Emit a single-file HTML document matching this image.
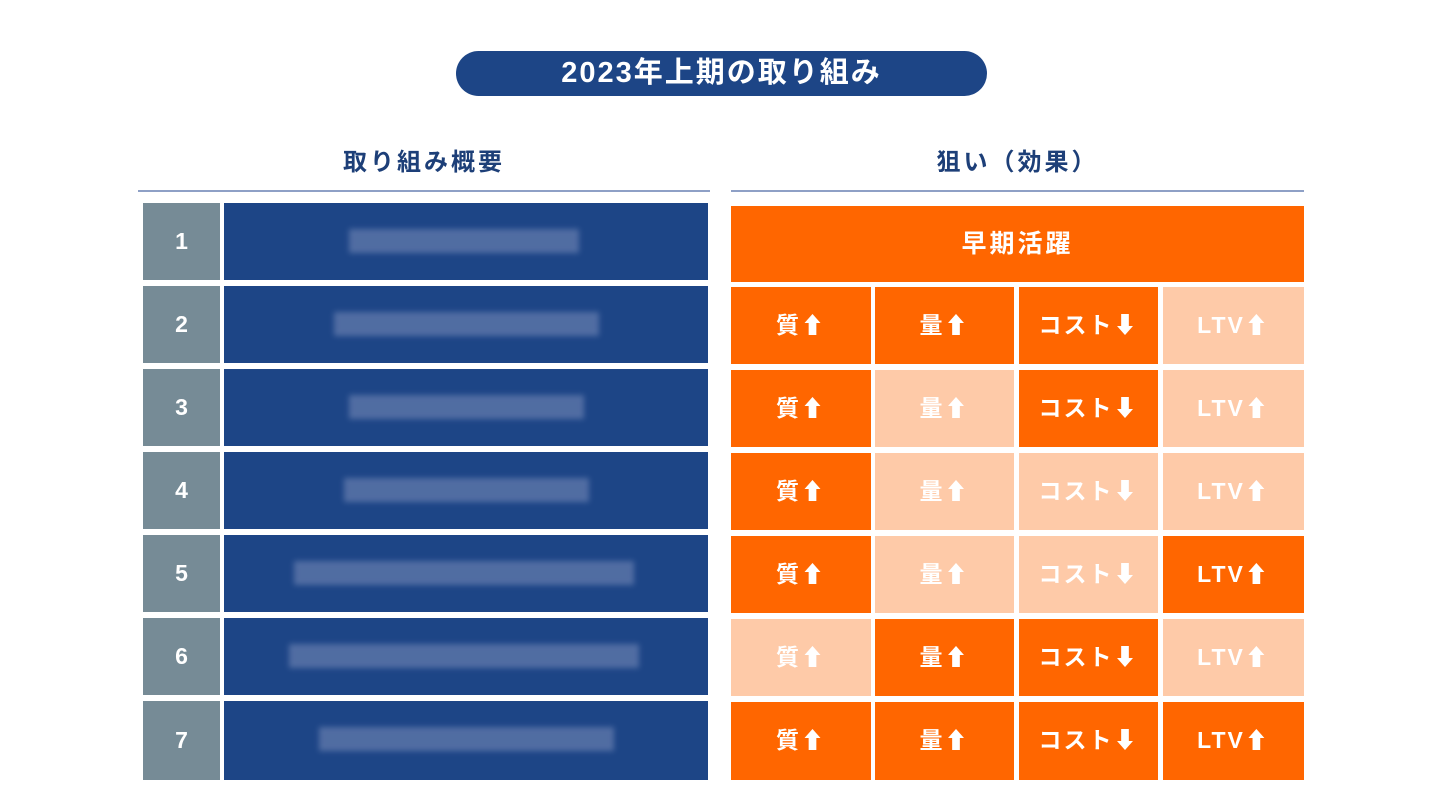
<!DOCTYPE html>
<html><head><meta charset="utf-8"><style>
body{margin:0;width:1440px;height:805px;background:#fff;position:relative;overflow:hidden;font-family:"Liberation Sans","Noto Sans CJK JP",sans-serif;font-weight:bold}
div{position:absolute;box-sizing:border-box}
.pill{left:456px;top:51px;width:531px;height:45px;background:#1d4586;border-radius:23px;color:#fff;font-size:29px;letter-spacing:2px;text-align:center;line-height:45px}
.h{top:147px;font-size:24px;letter-spacing:3px;color:#1d3f78;text-align:center;line-height:32px}
.ln{top:190px;height:2px;background:#8ea0c6}
.num{left:143px;width:77px;height:77px;background:#768b96;color:#fff;font-size:23px;text-align:center;line-height:77px}
.bl{left:224px;width:484px;height:77px;background:#1d4586}
.blur{height:24px;top:26px;background:#5a74a8;filter:blur(3px);opacity:.85}
.c{height:77px;color:#fff;font-size:23px;letter-spacing:2px;text-align:center;line-height:77px}
.on{background:#ff6600}.off{background:#fecaa8}
</style></head><body>
<div class="pill">2023年上期の取り組み</div>
<div class="h" style="left:138px;width:572px">取り組み概要</div>
<div class="h" style="left:731px;width:573px">狙い（効果）</div>
<div class="ln" style="left:138px;width:572px"></div>
<div class="ln" style="left:731px;width:573px"></div>

<div class="num" style="top:203px">1</div><div class="bl" style="top:203px"><div class="blur" style="left:125px;width:230px"></div></div>
<div class="num" style="top:286px">2</div><div class="bl" style="top:286px"><div class="blur" style="left:110px;width:265px"></div></div>
<div class="num" style="top:369px">3</div><div class="bl" style="top:369px"><div class="blur" style="left:125px;width:235px"></div></div>
<div class="num" style="top:452px">4</div><div class="bl" style="top:452px"><div class="blur" style="left:120px;width:245px"></div></div>
<div class="num" style="top:535px">5</div><div class="bl" style="top:535px"><div class="blur" style="left:70px;width:340px"></div></div>
<div class="num" style="top:618px">6</div><div class="bl" style="top:618px"><div class="blur" style="left:65px;width:350px"></div></div>
<div class="num" style="top:701px;height:79px;line-height:79px">7</div><div class="bl" style="top:701px;height:79px"><div class="blur" style="left:95px;width:295px"></div></div>

<div class="c on" style="left:731px;top:206px;width:573px;height:76px;line-height:76px;font-size:25px;letter-spacing:3px">早期活躍</div>

<div class="c on" style="left:731px;top:287px;width:140px">質⬆</div>
<div class="c on" style="left:875px;top:287px;width:139px">量⬆</div>
<div class="c on" style="left:1019px;top:287px;width:139px">コスト⬇</div>
<div class="c off" style="left:1163px;top:287px;width:141px">LTV⬆</div>

<div class="c on" style="left:731px;top:370px;width:140px">質⬆</div>
<div class="c off" style="left:875px;top:370px;width:139px">量⬆</div>
<div class="c on" style="left:1019px;top:370px;width:139px">コスト⬇</div>
<div class="c off" style="left:1163px;top:370px;width:141px">LTV⬆</div>

<div class="c on" style="left:731px;top:453px;width:140px">質⬆</div>
<div class="c off" style="left:875px;top:453px;width:139px">量⬆</div>
<div class="c off" style="left:1019px;top:453px;width:139px">コスト⬇</div>
<div class="c off" style="left:1163px;top:453px;width:141px">LTV⬆</div>

<div class="c on" style="left:731px;top:536px;width:140px">質⬆</div>
<div class="c off" style="left:875px;top:536px;width:139px">量⬆</div>
<div class="c off" style="left:1019px;top:536px;width:139px">コスト⬇</div>
<div class="c on" style="left:1163px;top:536px;width:141px">LTV⬆</div>

<div class="c off" style="left:731px;top:619px;width:140px">質⬆</div>
<div class="c on" style="left:875px;top:619px;width:139px">量⬆</div>
<div class="c on" style="left:1019px;top:619px;width:139px">コスト⬇</div>
<div class="c off" style="left:1163px;top:619px;width:141px">LTV⬆</div>

<div class="c on" style="left:731px;top:702px;width:140px;height:78px">質⬆</div>
<div class="c on" style="left:875px;top:702px;width:139px;height:78px">量⬆</div>
<div class="c on" style="left:1019px;top:702px;width:139px;height:78px">コスト⬇</div>
<div class="c on" style="left:1163px;top:702px;width:141px;height:78px">LTV⬆</div>
</body></html>
